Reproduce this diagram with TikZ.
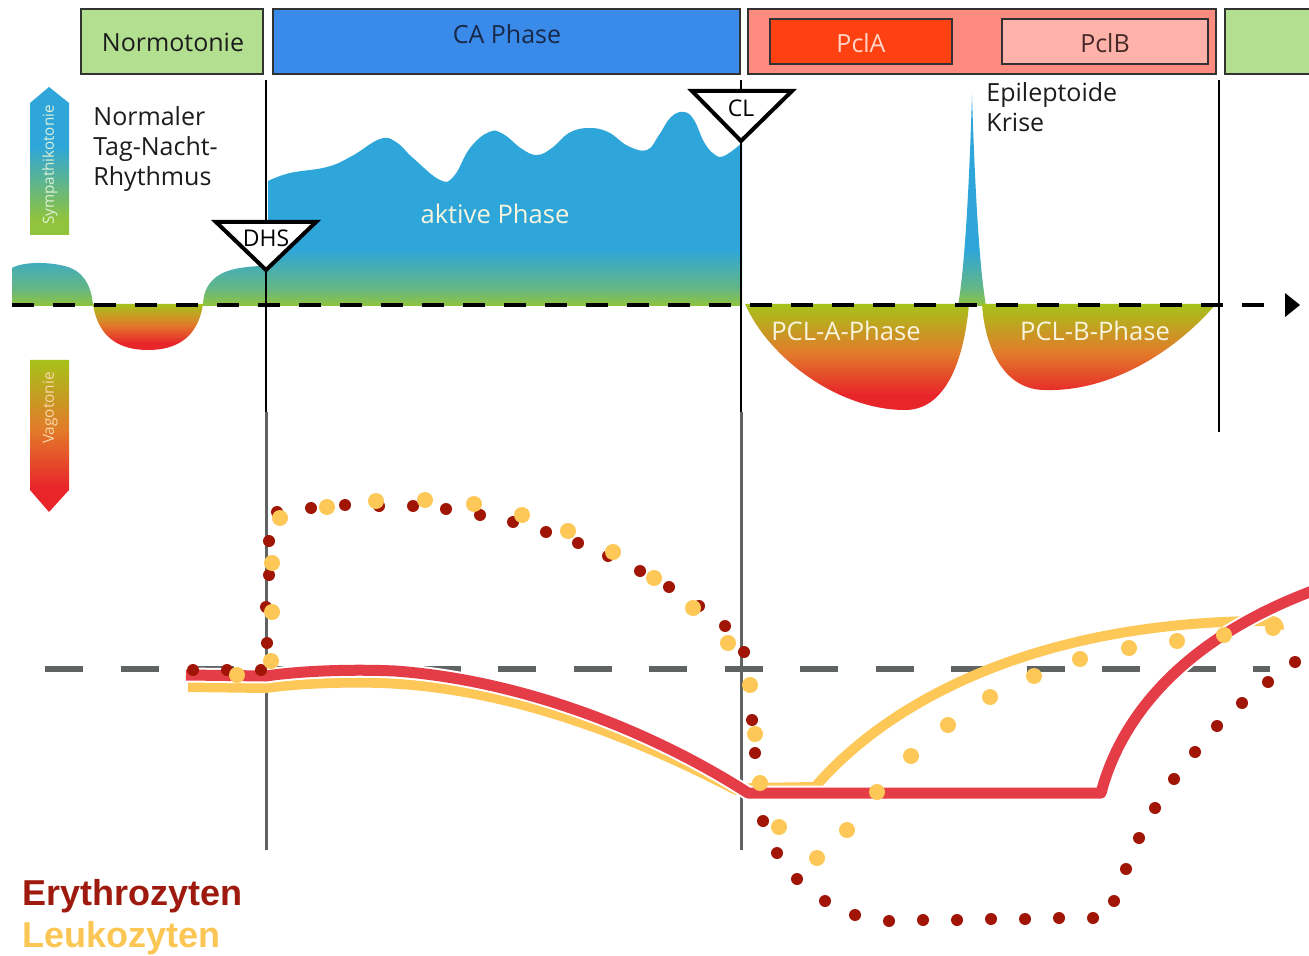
\documentclass[tikz,border=0pt]{standalone}
\usepackage{fontspec}
\setmainfont{Open Sans}
\newfontfamily\legfont{Liberation Sans}
\definecolor{cblue}{RGB}{46,166,218}
\definecolor{cgreen}{RGB}{145,196,60}
\definecolor{vgreen}{RGB}{166,194,26}
\definecolor{vorange}{RGB}{226,122,42}
\definecolor{vred}{RGB}{232,38,42}
\definecolor{boxgreen}{RGB}{179,223,144}
\definecolor{boxblue}{RGB}{58,138,234}
\definecolor{boxsalmon}{RGB}{253,139,127}
\definecolor{boxpcla}{RGB}{255,64,16}
\definecolor{boxpclb}{RGB}{255,178,170}
\definecolor{boxedge}{RGB}{50,50,50}
\definecolor{dotred}{RGB}{160,21,5}
\definecolor{dotyel}{RGB}{253,200,87}
\definecolor{linered}{RGB}{229,61,71}
\definecolor{lineyel}{RGB}{253,200,87}
\definecolor{lgray}{RGB}{95,99,98}
\definecolor{txtdark}{RGB}{28,28,28}
\definecolor{catxt}{RGB}{24,40,70}
\definecolor{pclatxt}{RGB}{255,214,200}
\definecolor{pclbtxt}{RGB}{70,40,40}
\definecolor{symtxt}{RGB}{222,240,214}
\definecolor{vagtxt}{RGB}{250,214,168}
\definecolor{phtxt}{RGB}{248,244,222}
\definecolor{erycol}{RGB}{158,26,14}
\definecolor{leucol}{RGB}{252,198,85}
\pgfdeclareverticalshading{sympsh}{100bp}{color(0bp)=(cgreen); color(25bp)=(cgreen); color(29bp)=(cgreen!55!cblue); color(38bp)=(cblue); color(100bp)=(cblue)}
\pgfdeclareverticalshading{symparrow}{100bp}{color(0bp)=(cgreen); color(25bp)=(cgreen); color(30bp)=(cgreen); color(55bp)=(cblue); color(100bp)=(cblue)}
\pgfdeclareverticalshading{vagosh}{100bp}{color(0bp)=(vred); color(25bp)=(vred); color(33bp)=(vred); color(52bp)=(vorange); color(75bp)=(vgreen); color(100bp)=(vgreen)}
\begin{document}
\begin{tikzpicture}[x=0.5pt,y=-0.5pt,
  boxlbl/.style={font=\fontsize{12.5}{15}\selectfont, inner sep=0pt},
  lbl/.style={font=\fontsize{12.5}{15}\selectfont, inner sep=0pt, anchor=base west, text=txtdark},
  trilbl/.style={font=\fontsize{11.5}{14}\selectfont, inner sep=0pt, text=black},
  phaselbl/.style={font=\fontsize{12.8}{15}\selectfont, inner sep=0pt},
  sidelbl/.style={rotate=90, inner sep=0pt},
  barbox/.style={draw=boxedge, line width=0.6pt},
  tri/.style={draw=black, fill=white, line width=2pt, line join=miter},
  thinv/.style={draw=black, line width=0.8pt},
  thickv/.style={draw=lgray, line width=1.5pt},
  legend/.style={font=\legfont\bfseries\fontsize{18}{21}\selectfont, inner sep=0pt, anchor=base west}]
\useasboundingbox (0,0) rectangle (1309,956);
\fill[white] (0,0) rectangle (1309,956);

% ---------- top bar ----------
\draw[barbox, fill=boxgreen] (81,9) rectangle (263,74);
\draw[barbox, fill=boxblue] (273,9) rectangle (740,74);
\draw[barbox, fill=boxsalmon] (748,9) rectangle (1216,74);
\draw[barbox, fill=boxpcla] (770,19) rectangle (952,64);
\draw[barbox, fill=boxpclb] (1002,19) rectangle (1208,64);
\draw[barbox, fill=boxgreen] (1225,9) rectangle (1330,74);
\node[boxlbl, text=txtdark] (normo) at (173,42) {Normotonie};
\node[boxlbl, text=catxt] (ca) at (507,34) {CA Phase};
\node[boxlbl, text=pclatxt] (pcla) at (861,43) {PclA};
\node[boxlbl, text=pclbtxt] (pclb) at (1105,43) {PclB};

% ---------- side arrows ----------
\shade[shading=symparrow] (30,235) -- (30,103) -- (49,87) -- (69,103) -- (69,235) -- cycle;
\node[sidelbl, font=\fontsize{7.6}{9}\selectfont, text=symtxt] (symp) at (50,165) {Sympathikotonie};
\shade[shading=vagosh] (30,360) -- (69,360) -- (69,490) -- (49,512) -- (30,490) -- cycle;
\node[sidelbl, font=\fontsize{7.7}{9}\selectfont, text=vagtxt] (vago) at (50,408) {Vagotonie};

% ---------- sympathicotonic areas ----------
\begin{scope}
\clip (12,306) -- (12,268) .. controls (22,262) and (48,261) .. (68,267) .. controls (86,273) and (92,290) .. (93,306) -- cycle
  (203,306) .. controls (203,286) and (214,272) .. (240,268) .. controls (252,266) and (262,266) .. (268,266) -- (268,181)
  -- plot[smooth, tension=0.7] coordinates {(268,181) (290,173) (327,167) (352,156) (380,139) (396,142) (413,158) (440,180) (454,176) (470,148) (489,132) (503,134) (522,149) (537,155) (552,148) (569,133) (588,128) (608,132) (628,146) (647,150) (659,135) (671,117) (684,112) (694,120) (704,142) (714,154) (724,156) (742,143)}
  -- (742,306) -- cycle
  (958,306) .. controls (966,260) and (970,160) .. (972,95) .. controls (974,160) and (978,260) .. (986,306) -- cycle;
\shade[shading=sympsh] (0,88) rectangle (1000,306);
\end{scope}

% ---------- vagotonic areas ----------
\shade[shading=vagosh] (93,304) .. controls (98,338) and (120,350) .. (148,350) .. controls (176,350) and (198,338) .. (203,304) -- cycle;
\begin{scope}
\clip (745,304) .. controls (770,360) and (840,410) .. (905,410) .. controls (950,410) and (965,350) .. (969,304) -- cycle
  (982,304) .. controls (985,350) and (1005,390) .. (1045,390) .. controls (1110,392) and (1175,352) .. (1216,304) -- cycle;
\shade[shading=vagosh] (740,304) rectangle (1220,411);
\end{scope}

% ---------- baseline ----------
\draw[black, line width=2.4pt, dash pattern=on 11pt off 9.5pt] (12,305) -- (1282,305);
\fill[black] (1285,293) -- (1300,305) -- (1285,317) -- cycle;

% ---------- vertical phase lines ----------
\draw[thinv] (266,80) -- (266,418);
\draw[thinv] (741,80) -- (741,418);
\draw[thinv] (1219,80) -- (1219,432);
\draw[thickv] (266,412) -- (266,850);
\draw[thickv] (741,412) -- (741,850);

% ---------- triangles ----------
\draw[tri] (216,222) -- (316,222) -- (266,270) -- cycle;
\node[trilbl] (dhs) at (266,238) {DHS};
\draw[tri] (692,91) -- (792,91) -- (741,141) -- cycle;
\node[trilbl] (cl) at (741,108) {CL};

% ---------- labels ----------
\node[lbl] (nor1) at (93,126) {Normaler};
\node[lbl] (nor2) at (93,156) {Tag-Nacht-};
\node[lbl] (nor3) at (93,186) {Rhythmus};
\node[lbl] (epi1) at (986,102) {Epileptoide};
\node[lbl] (epi2) at (986,132) {Krise};
\node[phaselbl, text=phtxt] (akt) at (495,214) {aktive Phase};
\node[phaselbl, text=phtxt] (pclaph) at (846,331) {PCL-A-Phase};
\node[phaselbl, text=phtxt] (pclbph) at (1095,331) {PCL-B-Phase};

% ---------- lower chart ----------
\draw[lgray, line width=3.4pt, dash pattern=on 19pt off 18.75pt] (45,669) -- (1270,669);

\draw[lineyel, line width=5pt, line join=round]
  (188,687) -- (266,688)
  .. controls (300,683) and (360,681) .. (400,684)
  .. controls (520,692) and (640,740) .. (736,790)
  -- (752,788) -- (815,787)
  .. controls (890,700) and (1040,620) .. (1272,621)
  .. controls (1277,621) and (1279,625) .. (1279,630);

\draw[linered, line width=5.5pt, line join=round, preaction={draw=white, line width=7.5pt}]
  (186,675) -- (266,676)
  .. controls (300,671) and (350,669) .. (395,671)
  .. controls (520,680) and (650,730) .. (748,793)
  -- (1101,793)
  .. controls (1120,720) and (1180,640) .. (1315,590);

\foreach \p in {(193,670),(227,670),(261,670),(267,643),(266,607),(269,575),(269,541),(277,512),(311,508),(345,505),(379,506),(413,506),(446,509),(480,515),(513,522),(546,532),(578,543),(608,556),(640,571),(669,587),(699,606),(725,626),(744,652),(752,720),(755,753),(763,821),(777,853),(797,879),(825,901),(855,915),(889,921),(923,920),(957,920),(991,919),(1025,919),(1059,918),(1093,918),(1114,901),(1126,869),(1139,838),(1155,808),(1174,779),(1195,752),(1217,726),(1242,703),(1268,682),(1295,662)}
  \fill[dotred] \p circle[radius=3pt];
\foreach \p in {(237,675),(271,661),(272,612),(272,563),(280,518),(327,507),(376,501),(425,500),(474,504),(522,515),(568,531),(613,552),(654,578),(693,608),(728,643),(750,685),(755,734),(760,783),(779,827),(817,858),(847,830),(877,792),(911,756),(948,725),(990,697),(1034,676),(1080,659),(1129,648),(1177,641),(1224,635),(1273,628)}
  \fill[dotyel] \p circle[radius=4pt];

% ---------- legend ----------
\node[legend, text=erycol] (ery) at (22,905) {Erythrozyten};
\node[legend, text=leucol] (leu) at (22,947) {Leukozyten};
\end{tikzpicture}
\end{document}
